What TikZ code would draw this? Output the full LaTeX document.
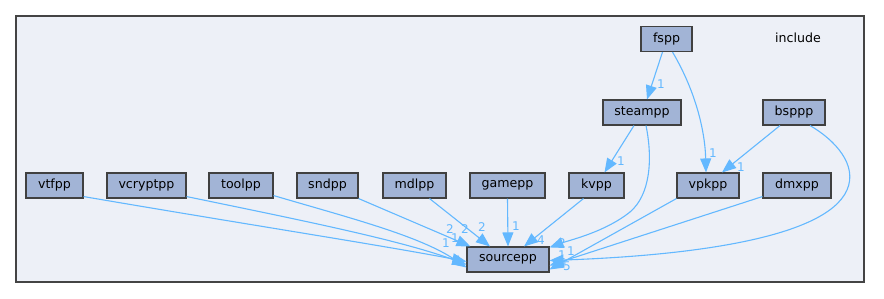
\documentclass[tikz,border=0pt]{standalone}
\usepackage{fontspec}
\setmainfont{DejaVu Sans}
\usetikzlibrary{arrows.meta}
\definecolor{clusterfill}{HTML}{EDF0F7}
\definecolor{clusterline}{HTML}{444444}
\definecolor{dirfill}{HTML}{A2B4D6}
\definecolor{dirline}{HTML}{404040}
\definecolor{deplink}{HTML}{63B8FF}
\tikzset{
  dirbox/.style={draw=dirline, line width=1.1pt, fill=dirfill, inner sep=0pt,
    minimum height=25pt, font=\fontsize{12.6}{14}\selectfont, text=black},
  dep/.style={draw=deplink, line width=1.1pt,
    -{Triangle[length=14pt,width=11pt]}},
  cnt/.style={text=deplink, font=\fontsize{12}{13}\selectfont, inner sep=0pt},
}
\begin{document}
\begin{tikzpicture}[x=1pt,y=-1pt]
\useasboundingbox (0,0) rectangle (884,299);
% enclosing directory
\draw[draw=clusterline, fill=clusterfill, line width=2.6pt] (16,16) rectangle (864,282);
\node[font=\fontsize{12.6}{14}\selectfont] (incl) at (798,38) {include};

% sub-directories
\node[dirbox, minimum width=51pt] (fspp) at (666.5,39) {fspp};
\node[dirbox, minimum width=78pt] (steampp) at (642,112.5) {steampp};
\node[dirbox, minimum width=62pt] (bsppp) at (794,112.5) {bsppp};
\node[dirbox, minimum width=57pt] (vtfpp) at (54.5,185.5) {vtfpp};
\node[dirbox, minimum width=79pt] (vcryptpp) at (146.5,185.5) {vcryptpp};
\node[dirbox, minimum width=64pt] (toolpp) at (241,185.5) {toolpp};
\node[dirbox, minimum width=61pt] (sndpp) at (327.5,185.5) {sndpp};
\node[dirbox, minimum width=63pt] (mdlpp) at (414.5,185.5) {mdlpp};
\node[dirbox, minimum width=75pt] (gamepp) at (507.5,185.5) {gamepp};
\node[dirbox, minimum width=55pt] (kvpp) at (596.5,185.5) {kvpp};
\node[dirbox, minimum width=62pt] (vpkpp) at (708,185.5) {vpkpp};
\node[dirbox, minimum width=68pt] (dmxpp) at (797,185.5) {dmxpp};
\node[dirbox, minimum width=82pt] (sourcepp) at (508,259.5) {sourcepp};

% dependencies
\draw[dep] ([xshift=-4pt]fspp.south) -- ([xshift=5pt]steampp.north);
\draw[dep] ([xshift=6pt]fspp.south) .. controls (695,90) and (705,130) .. ([xshift=-2pt]vpkpp.north);
\draw[dep] ([xshift=-8pt]steampp.south) -- ([xshift=8pt]kvpp.north);
\draw[dep] ([xshift=-14pt]bsppp.south) -- ([xshift=14pt]vpkpp.north);

\draw[dep] ([yshift=2pt]vtfpp.south east) .. controls (250,225) and (380,245) .. ([yshift=-2pt]sourcepp.west);
\draw[dep] ([yshift=2pt]vcryptpp.south east) .. controls (300,220) and (400,240) .. ([yshift=-5pt]sourcepp.west);
\draw[dep] ([yshift=3pt]toolpp.south east) .. controls (350,218) and (420,236) .. ([yshift=-8pt]sourcepp.west);
\draw[dep] (sndpp.south east) -- ([xshift=4pt]sourcepp.north west);
\draw[dep] ([xshift=15pt]mdlpp.south) -- ([xshift=-18pt]sourcepp.north);
\draw[dep] (gamepp.south) -- (sourcepp.north);
\draw[dep] ([xshift=-13pt]kvpp.south) -- ([xshift=16pt]sourcepp.north);
\draw[dep] ([xshift=4pt]steampp.south) .. controls (653,160) and (650,195) .. (630,212)
  .. controls (605,232) and (570,240) .. ([yshift=-1pt]sourcepp.north east);
\draw[dep] (vpkpp.south west) -- ([yshift=-10pt]sourcepp.east);
\draw[dep] ([yshift=2pt]dmxpp.south west) -- ([yshift=-6pt]sourcepp.east);
\draw[dep] ([xshift=16pt]bsppp.south) .. controls (835,140) and (858,165) .. (847,190)
  .. controls (825,240) and (680,256) .. ([yshift=-1pt]sourcepp.east);

% dependency counts
\node[cnt] (c1) at (661,84) {1};
\node[cnt] (c2) at (713,153) {1};
\node[cnt] (c3) at (621,161) {1};
\node[cnt] (c4) at (741,167) {1};
\node[cnt] (c5) at (516,226) {1};
\node[cnt] (c6) at (482,227) {2};
\node[cnt] (c7) at (465,229) {2};
\node[cnt] (c8) at (450,229) {2};
\node[cnt] (c9) at (455,238) {1};
\node[cnt] (c10) at (446,243) {1};
\node[cnt] (c11) at (541,240) {4};
\node[cnt] (c12) at (562,243) {2};
\node[cnt] (c13) at (571,251) {1};
\node[cnt] (c14) at (562,255) {1};
\node[cnt] (c15) at (567,266) {5};
\end{tikzpicture}
\end{document}
